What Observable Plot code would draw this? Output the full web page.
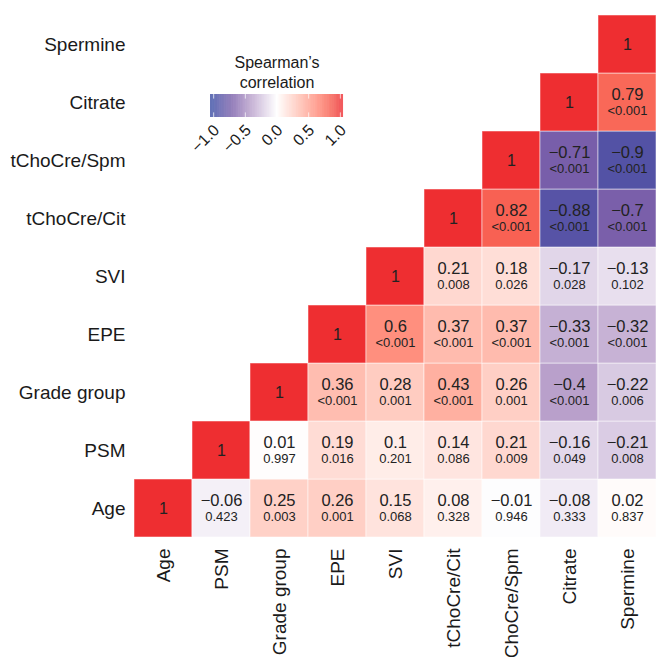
<!DOCTYPE html>
<html>
<head>
<meta charset="utf-8">
<script src="https://cdn.jsdelivr.net/npm/d3@7"></script>
<script src="https://cdn.jsdelivr.net/npm/@observablehq/plot@0.6"></script>
<style>
  html, body { margin: 0; padding: 0; background: #fff; }
  #wrap { position: relative; width: 657px; height: 657px; overflow: hidden; }
  #legend { position: absolute; left: 190px; top: 40px; }
</style>
</head>
<body>
<div id="wrap"><div id="main"></div><div id="legend"></div></div>
<script>
// Variables (bottom row / left column first)
const vars = ["Age", "PSM", "Grade group", "EPE", "SVI", "tChoCre/Cit", "tChoCre/Spm", "Citrate", "Spermine"];

// Each row: Spearman rho and p-value for columns from the row's own variable to the right
const rhoAge = [1, -0.06, 0.25, 0.26, 0.15, 0.08, -0.01, -0.08, 0.02];
const pAge = ["", "0.423", "0.003", "0.001", "0.068", "0.328", "0.946", "0.333", "0.837"];
const rhoPSM = [1, 0.01, 0.19, 0.1, 0.14, 0.21, -0.16, -0.21];
const pPSM = ["", "0.997", "0.016", "0.201", "0.086", "0.009", "0.049", "0.008"];
const rhoGrade = [1, 0.36, 0.28, 0.43, 0.26, -0.4, -0.22];
const pGrade = ["", "<0.001", "0.001", "<0.001", "0.001", "<0.001", "0.006"];
const rhoEPE = [1, 0.6, 0.37, 0.37, -0.33, -0.32];
const pEPE = ["", "<0.001", "<0.001", "<0.001", "<0.001", "<0.001"];
const rhoSVI = [1, 0.21, 0.18, -0.17, -0.13];
const pSVI = ["", "0.008", "0.026", "0.028", "0.102"];
const rhoTCit = [1, 0.82, -0.88, -0.7];
const pTCit = ["", "<0.001", "<0.001", "<0.001"];
const rhoTSpm = [1, -0.71, -0.9];
const pTSpm = ["", "<0.001", "<0.001"];
const rhoCitrate = [1, 0.79];
const pCitrate = ["", "<0.001"];
const rhoSpermine = [1];
const pSpermine = [""];

// Legend ticks and colour palette stops
const legendTicks = [-1, -0.5, 0, 0.5, 1];
const legendTitle = "Spearman\u2019s\ncorrelation";
const paletteDomain = [-1, -0.7, -0.4, 0, 1];
const paletteColors = ["#3B4CA3", "#7A5FAA", "#B9A0CB", "#FFFFFF", "#EE2E31"];

const rhoRows = [rhoAge, rhoPSM, rhoGrade, rhoEPE, rhoSVI, rhoTCit, rhoTSpm, rhoCitrate, rhoSpermine];
const pRows = [pAge, pPSM, pGrade, pEPE, pSVI, pTCit, pTSpm, pCitrate, pSpermine];

const cells = [];
rhoRows.forEach((row, i) => {
  row.forEach((r, k) => {
    cells.push({row: vars[i], col: vars[i + k], rho: r, p: pRows[i][k], diag: k === 0});
  });
});

const fmtRho = v => String(v).replace("-", "\u2212");
const font = "'Liberation Sans', Arial, Helvetica, sans-serif";
const colorOpts = {
  type: "linear",
  domain: paletteDomain,
  range: paletteColors,
  interpolate: d3.interpolateLab,
  clamp: true
};

const main = Plot.plot({
  width: 657,
  height: 657,
  marginLeft: 133,
  marginRight: 1,
  marginTop: 14,
  marginBottom: 119,
  style: {fontFamily: font, color: "#1a1a1a", background: "transparent"},
  x: {domain: vars, padding: 0},
  y: {domain: vars.slice().reverse(), padding: 0},
  color: colorOpts,
  marks: [
    Plot.cell(cells, {x: "col", y: "row", fill: "rho", stroke: "white", strokeOpacity: 0.5, strokeWidth: 1}),
    Plot.text(cells.filter(d => d.diag), {x: "col", y: "row", text: d => fmtRho(d.rho), fontSize: 16, fill: "#222"}),
    Plot.text(cells.filter(d => !d.diag), {x: "col", y: "row", text: d => fmtRho(d.rho), fontSize: 16.5, dy: -8, fill: "#222"}),
    Plot.text(cells.filter(d => !d.diag), {x: "col", y: "row", text: "p", fontSize: 13, dy: 8, fill: "#222"}),
    Plot.axisY({tickSize: 0, tickPadding: 8, fontSize: 19, label: null}),
    Plot.axisX({tickSize: 0, tickPadding: 10, fontSize: 19, tickRotate: -90, label: null})
  ]
});
document.getElementById("main").appendChild(main);

// Colour bar legend, drawn through the same colour scale
const stops = d3.range(-1.05, 1.05, 0.01);
const legend = Plot.plot({
  width: 170,
  height: 115,
  marginLeft: 20,
  marginRight: 17,
  marginTop: 54,
  marginBottom: 38,
  style: {fontFamily: font, color: "#1a1a1a", background: "transparent", overflow: "visible"},
  x: {domain: [-1.05, 1.05], axis: null},
  y: {domain: [0, 1], axis: null},
  color: colorOpts,
  marks: [
    Plot.rect(stops, {x1: d => d, x2: d => d + 0.0105, y1: 0, y2: 1, fill: d => d}),
    Plot.ruleX(legendTicks, {x: d => d, y1: 1, y2: 0.8, stroke: "white", strokeOpacity: 0.7}),
    Plot.ruleX(legendTicks, {x: d => d, y1: 0, y2: 0.2, stroke: "white", strokeOpacity: 0.7}),
    Plot.text(legendTicks, {x: d => d, y: 0, text: d => d3.format(".1f")(d), rotate: -45, textAnchor: "end", dy: 10, dx: 3, fontSize: 16}),
    Plot.text([legendTitle], {x: () => 0, y: 1, text: d => d, lineAnchor: "bottom", dy: -7, fontSize: 16, lineHeight: 1.25})
  ]
});
document.getElementById("legend").appendChild(legend);
</script>
</body>
</html>
